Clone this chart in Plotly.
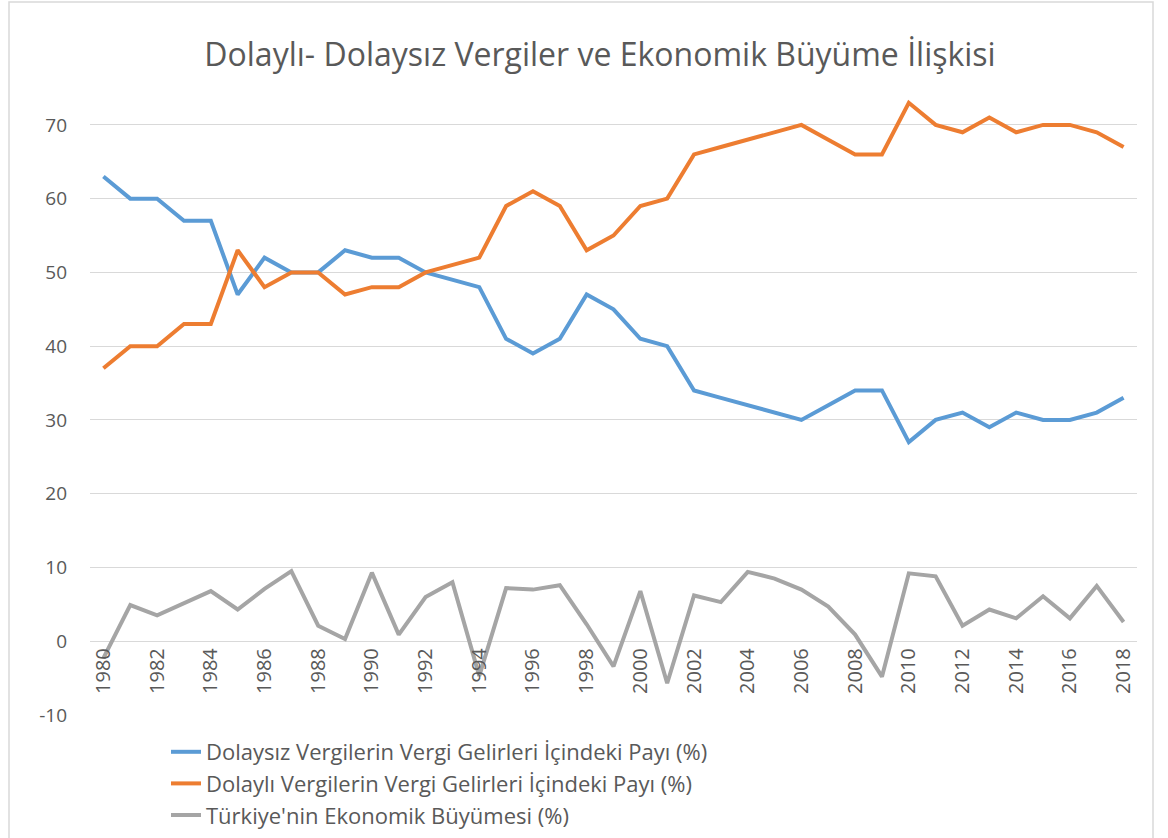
import plotly.graph_objects as go

years = list(range(1980, 2019))
dolaysiz = [63, 60, 60, 57, 57, 47, 52, 50, 50, 53, 52, 52, 50, 49, 48, 41, 39, 41, 47, 45,
            41, 40, 34, 33, 32, 31, 30, 32, 34, 34, 27, 30, 31, 29, 31, 30, 30, 31, 33]
dolayli = [37, 40, 40, 43, 43, 53, 48, 50, 50, 47, 48, 48, 50, 51, 52, 59, 61, 59, 53, 55,
           59, 60, 66, 67, 68, 69, 70, 68, 66, 66, 73, 70, 69, 71, 69, 70, 70, 69, 67]
buyume = [-2.3, 4.9, 3.5, 5.1, 6.8, 4.3, 7.1, 9.5, 2.1, 0.3, 9.3, 0.9, 6.0, 8.0, -4.7, 7.2, 7.0, 7.6, 2.3, -3.4,
          6.8, -5.7, 6.2, 5.3, 9.4, 8.5, 7.0, 4.7, 0.9, -4.8, 9.2, 8.8, 2.1, 4.3, 3.1, 6.1, 3.1, 7.5, 2.6]

y_ticks = [-10, 0, 10, 20, 30, 40, 50, 60, 70]
y_ticklabels = ["-10", "0", "10", "20", "30", "40", "50", "60", "70"]

names = ["Dolaysız Vergilerin Vergi Gelirleri İçindeki Payı (%)",
         "Dolaylı Vergilerin Vergi Gelirleri İçindeki Payı (%)",
         "Türkiye'nin Ekonomik Büyümesi (%)"]
colors = ["#5B9BD5", "#ED7D31", "#A5A5A5"]
series = [dolaysiz, dolayli, buyume]

FONT = "Open Sans"
TXT = "#595959"

fig = go.Figure()
for i, (nm, c, s) in enumerate(zip(names, colors, series)):
    fig.add_trace(go.Scatter(x=years, y=s, mode="lines", name=nm,
                             line=dict(color=c, width=4, shape="linear"),
                             hoverinfo="x+y"))

W, H = 1168, 838
L, R, T, B = 90, 31, 88, 123
pw, ph = W - L - R, H - T - B
ymin, ymax = -10, 75

def px2paper_x(px):
    return (px - L) / pw

def px2paper_y(py):
    return (H - B - py) / ph

fig.update_layout(
    width=W, height=H,
    margin=dict(l=L, r=R, t=T, b=B, autoexpand=False),
    paper_bgcolor="white", plot_bgcolor="white",
    font=dict(family=FONT, color=TXT),
    title=dict(text="Dolaylı- Dolaysız Vergiler ve Ekonomik Büyüme İlişkisi",
               font=dict(family=FONT, size=32, color=TXT),
               x=600 / W, xref="container", xanchor="center",
               y=1 - 55 / H, yref="container", yanchor="middle"),
    xaxis=dict(range=[1979.5, 2018.5], tickmode="array", tickvals=years[::2],
               ticktext=[str(y) for y in years[::2]], tickangle=-90,
               tickfont=dict(family=FONT, size=20, color=TXT), showgrid=False, zeroline=False,
               showline=False, ticks="", anchor="free",
               position=(0 - ymin) / (ymax - ymin), ticklabelstandoff=2),
    yaxis=dict(range=[ymin, ymax], tickmode="array", tickvals=y_ticks, ticktext=y_ticklabels,
               tickfont=dict(family=FONT, size=19, color=TXT), showgrid=True, gridcolor="#D9D9D9",
               gridwidth=1, zeroline=False, showline=False, ticks="",
               ticklabelstandoff=22),
    legend=dict(xref="paper", yref="paper", x=px2paper_x(166), y=px2paper_y(731),
                xanchor="left", yanchor="top", orientation="v",
                font=dict(family=FONT, size=22, color=TXT),
                tracegroupgap=0, bgcolor="rgba(0,0,0,0)"),
    showlegend=True,
)

# chart-area border
fig.add_shape(type="rect", xref="paper", yref="paper",
              x0=px2paper_x(9), x1=px2paper_x(1153),
              y0=px2paper_y(845), y1=px2paper_y(2),
              line=dict(color="#D9D9D9", width=1.5), fillcolor="rgba(0,0,0,0)", layer="below")

fig.write_html("out.html", config={"displayModeBar": False},
               post_script="document.body.style.margin='0';")
